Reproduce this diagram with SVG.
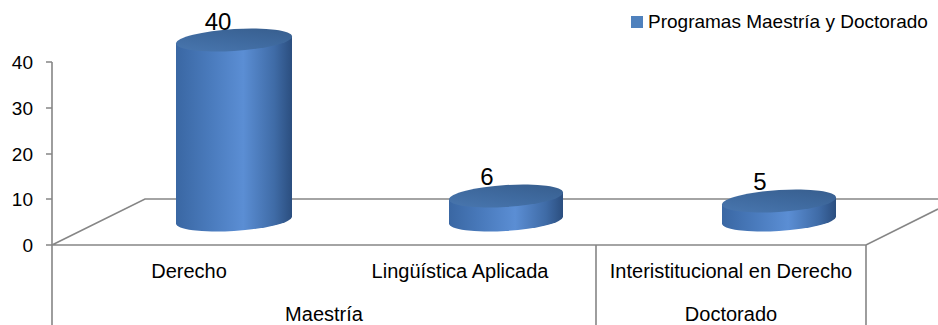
<svg xmlns="http://www.w3.org/2000/svg" width="938" height="325" viewBox="0 0 938 325">
<defs>
<linearGradient id="body" x1="0" y1="0" x2="1" y2="0">
<stop offset="0" stop-color="#3a67a3"/>
<stop offset="0.3" stop-color="#4a7bbd"/>
<stop offset="0.58" stop-color="#5b8ed4"/>
<stop offset="0.85" stop-color="#3f6ba6"/>
<stop offset="1" stop-color="#2b4e7f"/>
</linearGradient>
<linearGradient id="top" x1="0" y1="1" x2="1" y2="0">
<stop offset="0" stop-color="#4a78b1"/>
<stop offset="0.5" stop-color="#3f6a9f"/>
<stop offset="1" stop-color="#365c8b"/>
</linearGradient>
<style>
.ax{stroke:#868686;stroke-width:1.6;fill:none}
.t{font-family:"Liberation Sans",Arial,sans-serif;font-size:19px;fill:#000}
.c{font-size:20px}
.dl{font-family:"Liberation Sans",Arial,sans-serif;font-size:24px;fill:#000;text-anchor:middle}
.bd{fill:url(#body)}
.tp{fill:url(#top)}
</style>
</defs>
<rect width="938" height="325" fill="#fff"/>
<g id="connectors">
<path class="ax" d="M52,62 V325 M46,62 H52 M46,108 H52 M46,154 H52 M46,199 H52 M46,245 H52"/>
<path class="ax" d="M52,245 L145,199 H938 M52,245 H866 L938,209 M596,245 V325 M866,245 V325"/>
</g>
<g id="yaxis" class="t" text-anchor="end">
<text x="33" y="69">40</text>
<text x="33" y="115">30</text>
<text x="33" y="161">20</text>
<text x="33" y="206">10</text>
<text x="33" y="252">0</text>
</g>
<g id="bar-derecho">
<g transform="translate(234,0) skewY(-3.5)">
<path class="bd" d="M-58,40 V220 A58,11 0 0 0 58,220 V40 Z"/>
<ellipse class="tp" cx="0" cy="40" rx="58" ry="11"/>
</g>
<text class="dl" x="218" y="30">40</text>
</g>
<g id="bar-linguistica">
<g transform="translate(506,0) skewY(-3.5)">
<path class="bd" d="M-57,196 V220 A57,11 0 0 0 57,220 V196 Z"/>
<ellipse class="tp" cx="0" cy="196" rx="57" ry="11"/>
</g>
<text class="dl" x="487" y="185">6</text>
</g>
<g id="bar-interinstitucional">
<g transform="translate(779,0) skewY(-3.5)">
<path class="bd" d="M-57,201 V220 A57,11 0 0 0 57,220 V201 Z"/>
<ellipse class="tp" cx="0" cy="201" rx="57" ry="11"/>
</g>
<text class="dl" x="760" y="190">5</text>
</g>
<g id="categories" class="t c" text-anchor="middle">
<text x="189" y="278">Derecho</text>
<text x="460" y="278">Lingüística Aplicada</text>
<text x="731" y="278">Interistitucional en Derecho</text>
<text x="324" y="321">Maestría</text>
<text x="731" y="321">Doctorado</text>
</g>
<g id="legend">
<rect x="631" y="16" width="12" height="12" fill="#4f81bd"/>
<text class="t" x="648" y="28">Programas Maestría y Doctorado</text>
</g>
</svg>
